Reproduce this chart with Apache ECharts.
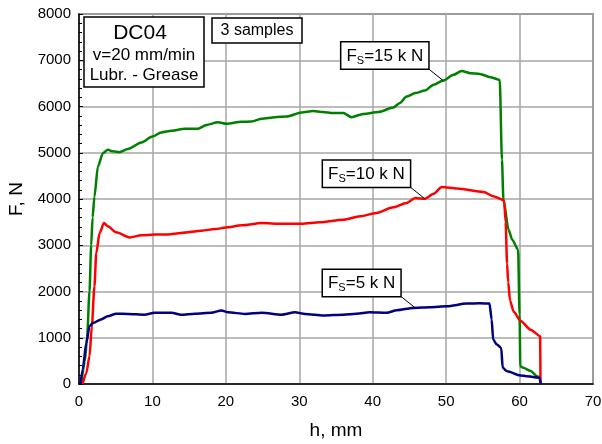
<!DOCTYPE html>
<html>
<head>
<meta charset="utf-8">
<script src="https://cdn.jsdelivr.net/npm/echarts@6/dist/echarts.min.js"></script>
<style>
html,body{margin:0;padding:0;background:#fff;}
#chart{width:602px;height:444px;}
</style>
</head>
<body>
<div id="chart"></div>
<script>
// Stroke h (mm) and punch force F (N) for three blank-holder forces
var h15 = [0.3,0.8,1.1,1.43,1.66,1.85,2.1,2.57,3.25,3.93,4.6,5.5,6.66,8.5,10,11.2,12.6,14.4,16.2,17.35,18.9,20.1,22.1,23.5,24.9,26.7,28.3,30.3,31.9,33.2,34.6,36.0,37.1,38.7,40.8,42.8,43.7,44.6,45.8,47.1,48.3,49.6,51.0,52.1,53.3,54.6,56.0,57.3,57.6,57.8,58.5,59.0,59.8,60.0,60.1,60.5,61.5,62.4,62.8];
var f15 = [0,500,1000,2000,3000,3600,4050,4700,4990,5065,5030,5010,5080,5220,5350,5440,5475,5520,5520,5600,5660,5625,5670,5675,5735,5770,5785,5870,5905,5880,5857,5857,5770,5840,5880,5980,6075,6215,6290,6345,6470,6560,6685,6770,6720,6705,6635,6575,4850,3985,3335,3120,2905,1500,385,350,280,170,140];

var h10 = [0.5,1.0,1.43,1.75,2.1,2.35,2.8,3.4,3.93,5.07,6.9,8.5,10.3,12.1,13.9,16.7,18.5,20.3,22.1,24.9,27.6,30.3,32.8,36.0,38.3,40.5,42.8,44.6,45.8,47.1,48.3,49.4,51.5,55.1,56.5,57.9,58.1,58.3,58.45,58.7,59.2,60.1,61.5,62.8,62.85];
var f10 = [0,240,600,1250,2110,2830,3265,3480,3410,3280,3170,3215,3230,3230,3265,3315,3350,3390,3430,3480,3465,3465,3495,3550,3625,3700,3820,3915,4020,4005,4115,4260,4225,4150,4055,3970,3500,2600,2200,1800,1560,1370,1175,1035,0];

var h5 = [0.2,0.5,1.0,1.43,1.9,3.0,3.9,5.07,6.66,8.9,10.3,12.6,13.9,15.8,18.0,19.4,20.3,22.6,24.9,27.6,29.4,30.8,33.3,36.0,37.8,39.6,41.9,43.3,45.5,47.8,50.1,52.8,54.6,55.9,56.2,56.4,56.9,57.5,57.7,58.3,60.1,62.7,62.9];
var f5 = [0,310,890,1250,1320,1395,1465,1520,1515,1500,1540,1540,1495,1520,1540,1590,1550,1515,1540,1500,1550,1515,1480,1500,1520,1550,1540,1595,1645,1660,1680,1740,1745,1740,1395,960,855,780,350,275,185,135,0];

// Axis ranges and ticks
var xTicks = [0,10,20,30,40,50,60,70];
var yTicks = [0,1000,2000,3000,4000,5000,6000,7000,8000];

// Curve labels and the curve point each one points to
var labelForce = ['15', '10', '5'];
var labelH = [49.6, 47.1, 45.8];
var labelF = [6560, 4005, 1645];

var infoLines = ['DC04', 'v=20 mm/min', 'Lubr. - Grease'];
var sampleNote = '3 samples';

function pairs(xs, ys) {
  return xs.map(function (x, i) { return [x, ys[i]]; });
}

var FONT = 'Liberation Sans, Arial, sans-serif';
var chart = echarts.init(document.getElementById('chart'), null, {renderer: 'canvas'});

function lineSeries(name, color, data) {
  return {
    name: name, type: 'line', data: data, showSymbol: false, symbol: 'none',
    smooth: 0.25, smoothMonotone: 'x',
    lineStyle: {color: color, width: 2.5}, z: 3, animation: false
  };
}

chart.setOption({
  animation: false,
  backgroundColor: '#fff',
  grid: {
    left: 79, right: 9, top: 14, bottom: 60,
    containLabel: false, outerBoundsMode: 'none',
    show: true, borderColor: '#555', borderWidth: 1.5, backgroundColor: 'transparent'
  },
  xAxis: {
    type: 'value', min: xTicks[0], max: xTicks[xTicks.length - 1], interval: 10,
    name: 'h, mm', nameLocation: 'middle', nameGap: 37,
    nameTextStyle: {fontFamily: FONT, fontSize: 19, color: '#000'},
    axisLine: {show: true, onZero: false, lineStyle: {color: '#000', width: 1.5}},
    axisTick: {show: false},
    axisLabel: {fontFamily: FONT, fontSize: 15, color: '#000', margin: 10, hideOverlap: false, formatter: function (v) { return String(v); }},
    splitLine: {show: true, lineStyle: {color: '#a6a6a6', width: 1.5}}
  },
  yAxis: {
    type: 'value', min: yTicks[0], max: yTicks[yTicks.length - 1], interval: 1000,
    name: 'F, N', nameLocation: 'middle', nameGap: 53, nameRotate: 90,
    nameTextStyle: {fontFamily: FONT, fontSize: 19, color: '#000'},
    axisLine: {show: true, onZero: false, lineStyle: {color: '#000', width: 1.5}},
    axisTick: {show: true, inside: true, length: 4, lineStyle: {color: '#000'}},
    minorTick: {show: true, splitNumber: 5, length: 3, lineStyle: {color: '#000'}},
    axisLabel: {fontFamily: FONT, fontSize: 15, color: '#000', margin: 8, formatter: function (v) { return String(v); }},
    splitLine: {show: true, lineStyle: {color: '#a6a6a6', width: 1.5}}
  },
  series: [
    lineSeries('FS=15 kN', '#008000', pairs(h15, f15)),
    lineSeries('FS=10 kN', '#ff0000', pairs(h10, f10)),
    lineSeries('FS=5 kN', '#000080', pairs(h5, f5))
  ]
});

// Text boxes and leader lines
var graphics = [];
graphics.push({
  type: 'rect', shape: {x: 84, y: 17, width: 120, height: 70},
  style: {fill: '#fff', stroke: '#000', lineWidth: 1.5}, z: 10
});
graphics.push({
  type: 'text', x: 140, y: 33, z: 11,
  style: {text: infoLines[0], font: '21px ' + FONT, fill: '#000', textAlign: 'center', textVerticalAlign: 'middle'}
});
graphics.push({
  type: 'text', x: 144, y: 55, z: 11,
  style: {text: infoLines[1], font: '17px ' + FONT, fill: '#000', textAlign: 'center', textVerticalAlign: 'middle'}
});
graphics.push({
  type: 'text', x: 144, y: 75, z: 11,
  style: {text: infoLines[2], font: '17px ' + FONT, fill: '#000', textAlign: 'center', textVerticalAlign: 'middle'}
});
graphics.push({
  type: 'rect', shape: {x: 212, y: 18, width: 90, height: 25},
  style: {fill: '#fff', stroke: '#000', lineWidth: 1.5}, z: 10
});
graphics.push({
  type: 'text', x: 257, y: 31, z: 11,
  style: {text: sampleNote, font: '16px ' + FONT, fill: '#000', textAlign: 'center', textVerticalAlign: 'middle'}
});

for (var i = 0; i < labelForce.length; i++) {
  var p = chart.convertToPixel({gridIndex: 0}, [labelH[i], labelF[i]]);
  var cx = p[0] - 15, cy = p[1] - 12;
  graphics.push({
    type: 'line', shape: {x1: cx, y1: cy, x2: p[0], y2: p[1]},
    style: {stroke: '#000', lineWidth: 1}, z: 9
  });
  graphics.push({
    type: 'text', x: cx, y: cy, z: 11,
    style: {
      text: '{f|F}{s|S}{f|=' + labelForce[i] + ' k N}',
      textAlign: 'right', textVerticalAlign: 'bottom',
      backgroundColor: '#fff', borderColor: '#000', borderWidth: 1.5,
      padding: [3, 5, 2, 5],
      rich: {
        f: {fontFamily: FONT, fontSize: 17, color: '#000', lineHeight: 21},
        s: {fontFamily: FONT, fontSize: 11, color: '#000', lineHeight: 21, verticalAlign: 'bottom', padding: [6, 0, 0, 0]}
      }
    }
  });
}
chart.setOption({graphic: graphics});
</script>
</body>
</html>
